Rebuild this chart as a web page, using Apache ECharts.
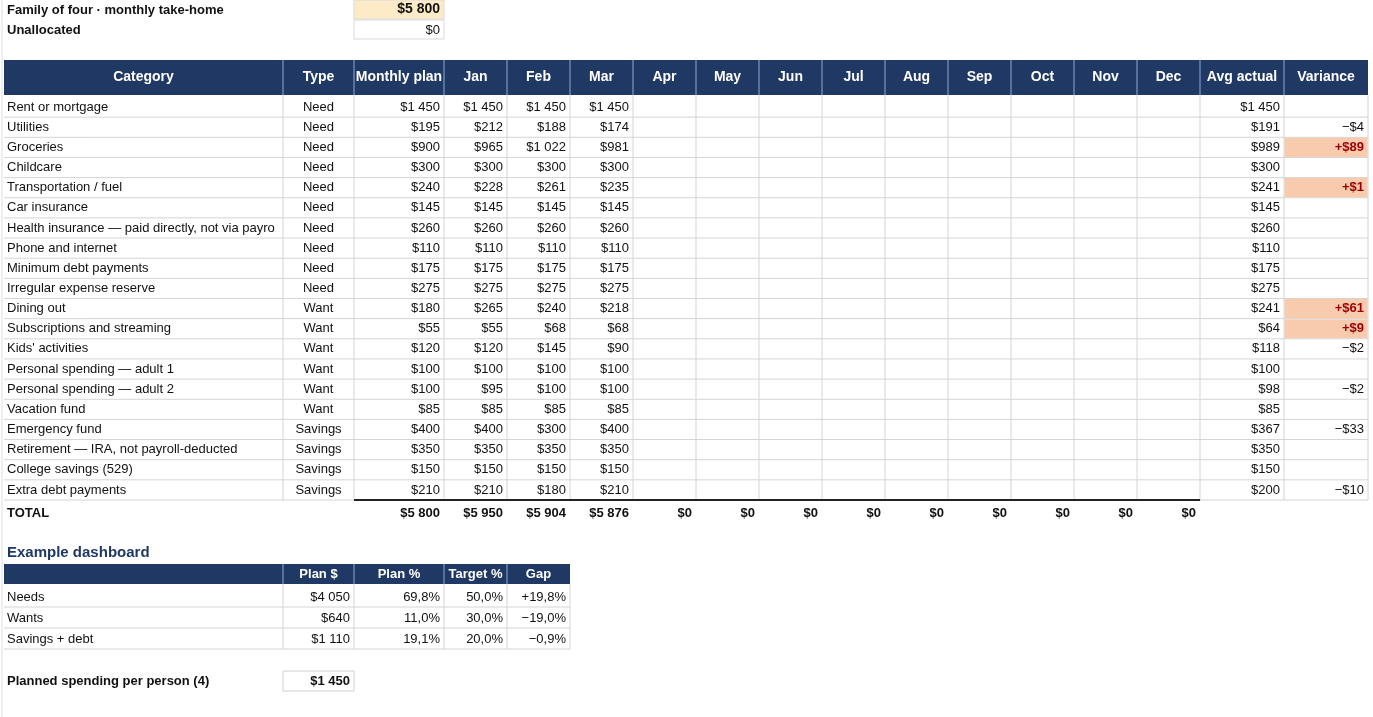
<!DOCTYPE html>
<html>
<head>
<meta charset="utf-8">
<script src="https://cdn.jsdelivr.net/npm/echarts@6/dist/echarts.min.js"></script>
<style>html,body{margin:0;background:#fff}#main{width:1373px;height:717px}</style>
</head>
<body>
<div id="main"></div>
<script>
var headers = ['Category','Type','Monthly plan','Jan','Feb','Mar','Apr','May','Jun','Jul','Aug','Sep','Oct','Nov','Dec','Avg actual','Variance'];
var categories = ['Rent or mortgage','Utilities','Groceries','Childcare','Transportation / fuel','Car insurance',
  'Health insurance \u2014 paid directly, not via payro','Phone and internet','Minimum debt payments','Irregular expense reserve',
  'Dining out','Subscriptions and streaming',"Kids' activities",'Personal spending \u2014 adult 1','Personal spending \u2014 adult 2',
  'Vacation fund','Emergency fund','Retirement \u2014 IRA, not payroll-deducted','College savings (529)','Extra debt payments'];
var types = ['Need','Need','Need','Need','Need','Need','Need','Need','Need','Need','Want','Want','Want','Want','Want','Want','Savings','Savings','Savings','Savings'];
var plan = [1450,195,900,300,240,145,260,110,175,275,180,55,120,100,100,85,400,350,150,210];
var jan  = [1450,212,965,300,228,145,260,110,175,275,265,55,120,100,95,85,400,350,150,210];
var feb  = [1450,188,1022,300,261,145,260,110,175,275,240,68,145,100,100,85,300,350,150,180];
var mar  = [1450,174,981,300,235,145,260,110,175,275,218,68,90,100,100,85,400,350,150,210];
var avgActual = [1450,191,989,300,241,145,260,110,175,275,241,64,118,100,98,85,367,350,150,200];
var variance = ['','\u2212$4','+$89','','+$1','','','','','','+$61','+$9','\u2212$2','','\u2212$2','','\u2212$33','','','\u2212$10'];
var varHighlight = [0,0,1,0,1,0,0,0,0,0,1,1,0,0,0,0,0,0,0,0];
var totals = ['$5 800','$5 950','$5 904','$5 876','$0','$0','$0','$0','$0','$0','$0','$0','$0'];
var dashHeaders = ['','Plan $','Plan %','Target %','Gap'];
var dashRows = ['Needs','Wants','Savings + debt'];
var dashPlan = ['$4 050','$640','$1 110'];
var dashPct = ['69,8%','11,0%','19,1%'];
var dashTarget = ['50,0%','30,0%','20,0%'];
var dashGap = ['+19,8%','\u221219,0%','\u22120,9%'];

function money(v){ var s=String(v); if(s.length>3) s=s.slice(0,s.length-3)+' '+s.slice(-3); return '$'+s; }

var FONT = '"Liberation Sans", Arial, sans-serif';
var NAVY = '#1f3864', GRID = '#d4d4d4';
var colX = [4,283,354,444,507,570,633,696,759,822,885,948,1011,1074,1137,1200,1284,1368];
var els = [];
function rect(x,y,w,h,fill,stroke){ els.push({type:'rect',shape:{x:x,y:y,width:w,height:h},style:{fill:fill||'none',stroke:stroke||null,lineWidth:1},silent:true}); }
function line(x1,y1,x2,y2,c,w){ els.push({type:'line',shape:{x1:x1,y1:y1,x2:x2,y2:y2},style:{stroke:c,lineWidth:w||1},silent:true}); }
function text(t,x,y,align,opt){ opt=opt||{}; els.push({type:'text',x:x,y:y,silent:true,style:{text:t,fill:opt.color||'#111',font:(opt.bold?'bold ':'')+(opt.size||13)+'px '+FONT,align:align||'left',verticalAlign:'middle'}}); }
function cell(t,c0,c1,y,align,opt){ if(align==='right') text(t,colX[c1]-4,y,'right',opt); else if(align==='center') text(t,(colX[c0]+colX[c1])/2,y,'center',opt); else text(t,colX[c0]+3,y,'left',opt); }

// top inputs
text('Family of four \u00b7 monthly take-home',7,10,'left',{bold:true});
rect(354,0,90,19,'#fdebc8','#d9d9d9');
text('$5 800',440,9,'right',{bold:true,size:14});
text('Unallocated',7,30,'left',{bold:true});
rect(354,20,90,19,'#fff','#d9d9d9');
text('$0',440,30,'right');

// header
var hTop=60,hBot=95;
rect(4,hTop,1364,hBot-hTop,NAVY);
for(var i=0;i<headers.length;i++){
  if(i>0) line(colX[i],hTop,colX[i],hBot,'#8ea9db',1);
  cell(headers[i],i,i+1,(hTop+hBot)/2,'center',{bold:true,color:'#fff',size:14});
}
// rows
var r0=97,pitch=20.15;
for(var r=0;r<categories.length;r++){
  var rowTop=r0+r*pitch, cy=rowTop+pitch/2;
  if(varHighlight[r]) rect(colX[16]+0.5,rowTop+0.5,colX[17]-colX[16]-1,pitch-1,'#f8cbad');
  line(4,rowTop+pitch,1368,rowTop+pitch,GRID);
  cell(categories[r],0,1,cy,'left');
  cell(types[r],1,2,cy,'center');
  cell(money(plan[r]),2,3,cy,'right');
  cell(money(jan[r]),3,4,cy,'right');
  cell(money(feb[r]),4,5,cy,'right');
  cell(money(mar[r]),5,6,cy,'right');
  cell(money(avgActual[r]),15,16,cy,'right');
  if(variance[r]) cell(variance[r],16,17,cy,'right',varHighlight[r]?{bold:true,color:'#9c0006'}:{});
}
var bodyBot=r0+categories.length*pitch;
for(var c=1;c<colX.length;c++) line(colX[c],hBot,colX[c],bodyBot,GRID);
line(354,bodyBot,1200,bodyBot,'#222',2);
var ty=bodyBot+13;
cell('TOTAL',0,1,ty,'left',{bold:true});
for(var t=0;t<totals.length;t++) cell(totals[t],t+2,t+3,ty,'right',{bold:true});

// dashboard
text('Example dashboard',7,553,'left',{bold:true,size:15,color:'#1f3864'});
rect(4,564,566,20,NAVY);
for(var d=1;d<dashHeaders.length;d++){ line(colX[d],564,colX[d],584,'#8ea9db'); cell(dashHeaders[d],d,d+1,574,'center',{bold:true,color:'#fff'}); }
for(var k=0;k<dashRows.length;k++){
  var dt=586+k*21, dy=dt+11;
  line(4,dt+21,570,dt+21,GRID);
  cell(dashRows[k],0,1,dy,'left');
  cell(dashPlan[k],1,2,dy,'right');
  cell(dashPct[k],2,3,dy,'right');
  cell(dashTarget[k],3,4,dy,'right');
  cell(dashGap[k],4,5,dy,'right');
}
for(var v=1;v<=5;v++) line(colX[v],584,colX[v],649,GRID);
text('Planned spending per person (4)',7,681,'left',{bold:true});
rect(283,671,71,20,'#fff','#d0d0d0');
text('$1 450',350,681,'right',{bold:true});
line(2,0,2,717,'#e0e0e0');

var chart = echarts.init(document.getElementById('main'));
chart.setOption({animation:false,graphic:{elements:els}});
</script>
</body>
</html>
